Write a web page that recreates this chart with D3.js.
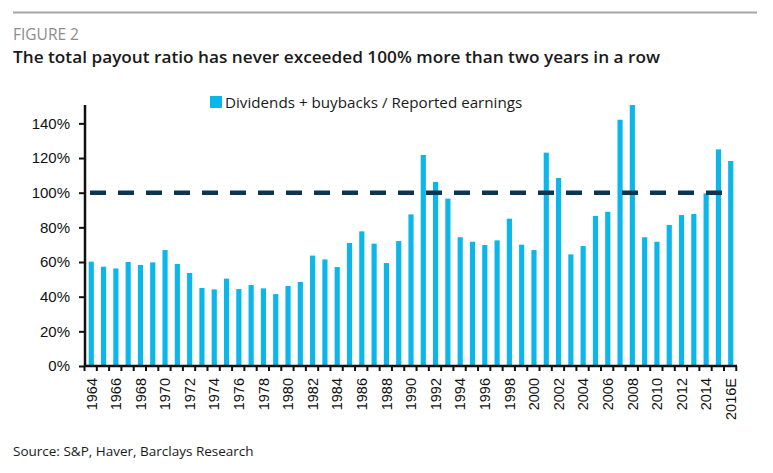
<!DOCTYPE html>
<html lang="en">
<head>
<meta charset="UTF-8">
<title>Figure 2</title>
<script src="https://cdn.jsdelivr.net/npm/d3@7.9.0/dist/d3.min.js"></script>
<style>
    body { margin: 0; background: #fff; }
    svg { display: block; font-family: "Open Sans", "Noto Sans", sans-serif; }
    .tick text { fill: #111; }
</style>
</head>
<body>
<svg id="chart" width="773" height="473"></svg>
<script>
// Years shown on the x axis
const years = [
    "1964", "1965", "1966", "1967", "1968", "1969", "1970", "1971", "1972", "1973",
    "1974", "1975", "1976", "1977", "1978", "1979", "1980", "1981", "1982", "1983",
    "1984", "1985", "1986", "1987", "1988", "1989", "1990", "1991", "1992", "1993",
    "1994", "1995", "1996", "1997", "1998", "1999", "2000", "2001", "2002", "2003",
    "2004", "2005", "2006", "2007", "2008", "2009", "2010", "2011", "2012", "2013",
    "2014", "2015", "2016E"
];

// Dividends + buybacks / reported earnings, in %
const payoutRatio = [
    60.2, 57.3, 56.3, 60.0, 58.3, 59.8, 66.9, 58.9, 53.7, 45.0,
    44.2, 50.4, 44.4, 46.7, 44.8, 41.5, 46.2, 48.5, 63.7, 61.5,
    57.1, 71.0, 77.7, 70.6, 59.4, 72.1, 87.5, 121.8, 106.2, 96.6,
    74.3, 71.7, 69.8, 72.5, 85.0, 70.0, 66.9, 123.1, 108.5, 64.4,
    69.2, 86.6, 89.0, 142.1, 150.6, 74.3, 71.7, 81.4, 87.1, 87.7,
    99.6, 125.0, 118.3
];

const yTicks = [0, 20, 40, 60, 80, 100, 120, 140];
const threshold = 100;
const seriesName = "Dividends + buybacks / Reported earnings";

const svg = d3.select('#chart');
const margin = { left: 85, right: 36, top: 105, bottom: 107 };
const width = 773 - margin.left - margin.right;
const height = 473 - margin.top - margin.bottom;

// header
svg.append('line')
    .attr('x1', 13).attr('x2', 757).attr('y1', 12.5).attr('y2', 12.5)
    .attr('stroke', '#a6a6a6').attr('stroke-width', 2);

svg.append('text')
    .attr('x', 13).attr('y', 40)
    .attr('font-size', 15.5).attr('fill', '#8c8c8c')
    .text('FIGURE 2');

svg.append('text')
    .attr('x', 13).attr('y', 63)
    .attr('font-size', 16.5).attr('font-weight', 600).attr('fill', '#1a1a1a')
    .attr('textLength', 647).attr('lengthAdjust', 'spacingAndGlyphs')
    .text('The total payout ratio has never exceeded 100% more than two years in a row');

const g = svg.append('g').attr('transform', `translate(${margin.left},${margin.top})`);

let x = d3.scaleBand().domain(years).range([0, width]).paddingInner(0.58).paddingOuter(0.3);
let y = d3.scaleLinear().domain([0, 150.6]).range([height, 0]);

// bars
g.selectAll('rect.bar')
    .data(payoutRatio)
    .enter()
    .append('rect')
    .attr('class', 'bar')
    .attr('x', (d, i) => x(years[i]))
    .attr('y', d => y(d))
    .attr('width', x.bandwidth())
    .attr('height', d => height - y(d))
    .attr('fill', '#0bb7ea');

// 100% reference line
g.append('line')
    .attr('x1', 5).attr('x2', x(years[years.length - 1]) + x.bandwidth())
    .attr('y1', y(threshold)).attr('y2', y(threshold))
    .attr('stroke', '#0c3552').attr('stroke-width', 4.5)
    .attr('stroke-dasharray', '16 12')
    .attr('stroke-linecap', 'butt');

// y axis
let yAxis = g.append('g')
    .call(d3.axisLeft(y).tickValues(yTicks).tickSize(6).tickPadding(9).tickFormat(d => d + '%'));
yAxis.select('.domain').remove();
yAxis.selectAll('.tick line').attr('stroke', '#111').attr('stroke-width', 2);
yAxis.selectAll('.tick text').attr('font-size', 15);
g.append('line')
    .attr('x1', 0).attr('x2', 0).attr('y1', 0).attr('y2', height + 1)
    .attr('stroke', '#111').attr('stroke-width', 2.5);

// x axis
let step = x.step();
let xAxis = g.append('g')
    .attr('transform', `translate(0,${height})`)
    .call(d3.axisBottom(x).tickSize(0).tickFormat((d, i) => i % 2 === 0 || d === '2016E' ? d : ''));
xAxis.select('.domain').remove();
xAxis.selectAll('.tick text')
    .attr('font-size', 14.5)
    .attr('transform', 'rotate(-90)')
    .attr('text-anchor', 'end')
    .attr('dx', '-0.83em')
    .attr('dy', '0.36em')
    .attr('y', 0)
    .attr('x', 0);
// tick marks sit on band boundaries
g.selectAll('line.xtick')
    .data(d3.range(years.length + 1))
    .enter()
    .append('line')
    .attr('class', 'xtick')
    .attr('x1', i => x.range()[0] + x.paddingOuter() * step + i * step - (x.paddingInner() * step) / 2 - 0.6)
    .attr('x2', i => x.range()[0] + x.paddingOuter() * step + i * step - (x.paddingInner() * step) / 2 - 0.6)
    .attr('y1', height).attr('y2', height + 5)
    .attr('stroke', '#111').attr('stroke-width', 2);
g.append('line')
    .attr('x1', 0).attr('x2', width).attr('y1', height).attr('y2', height)
    .attr('stroke', '#111').attr('stroke-width', 2.5);

// legend
let legend = svg.append('g').attr('transform', 'translate(210,96)');
legend.append('rect').attr('width', 12).attr('height', 12).attr('fill', '#0bb7ea');
legend.append('text')
    .attr('x', 15).attr('y', 11.5)
    .attr('font-size', 15.2).attr('fill', '#1a1a1a')
    .text(seriesName);

// source
svg.append('text')
    .attr('x', 13).attr('y', 456)
    .attr('font-size', 13.5).attr('fill', '#1a1a1a')
    .text('Source: S&P, Haver, Barclays Research');
</script>
</body>
</html>
